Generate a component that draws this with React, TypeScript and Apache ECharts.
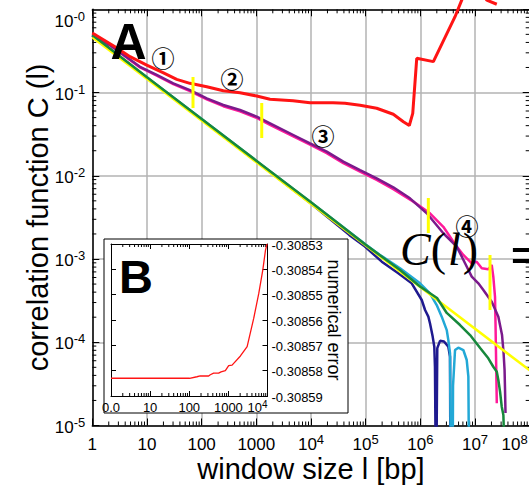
import React, { useEffect, useRef } from 'react';
import * as echarts from 'echarts';

// ---- main panel A: correlation function C(l) vs window size l ----
const redCurve: number[][] = [
  [1, 0.52], [2.6, 0.355], [4.9, 0.27], [9.9, 0.214], [19.6, 0.173], [35, 0.144], [61, 0.129],
  [124, 0.1175], [249, 0.105], [503, 0.0996], [1016, 0.0908], [1780, 0.083], [4690, 0.0798],
  [9600, 0.0755], [25300, 0.0755], [41900, 0.0743], [78900, 0.0705], [159000, 0.0647],
  [320000, 0.0548], [489000, 0.0446], [628000, 0.0402], [726000, 0.0563], [859000, 0.258],
  [1.73e6, 0.235], [4.31e6, 0.815], [5.71e6, 1.29], [8.8e6, 2.25], [1.64e7, 1.29], [2.5e7, 1.15],
];
const purpleCurve: number[][] = [
  [1, 0.49], [2.1, 0.372], [7.46, 0.204], [15.1, 0.1625], [30.3, 0.129], [61.2, 0.107],
  [124, 0.0853], [249, 0.0708], [503, 0.0617], [1016, 0.0513], [1780, 0.0427], [4750, 0.0309],
  [9600, 0.0245], [19400, 0.0195], [39000, 0.0148], [78900, 0.0117], [159000, 0.00933],
  [320000, 0.00727], [647000, 0.00536], [1.31e6, 0.00354], [2.63e6, 0.00204], [4.63e6, 0.00141],
  [6.57e6, 0.000889], [8.71e6, 0.000614], [1.15e7, 0.00051], [1.42e7, 0.000425], [2.02e7, 0.000307],
  [2.67e7, 0.000203], [3.12e7, 0.000122], [3.32e7, 7.64e-5], [3.47e7, 4.64e-5], [3.54e7, 2.67e-5],
  [3.61e7, 1.41e-5],
];
const magentaCurve: number[][] = [
  [1, 0.49], [2.1, 0.37], [7.46, 0.2], [15.1, 0.16], [30.3, 0.126], [61.2, 0.104], [124, 0.083],
  [249, 0.0685], [503, 0.0595], [1016, 0.0495], [1780, 0.041], [4750, 0.0297], [9600, 0.0236],
  [19400, 0.0187], [39000, 0.0142], [78900, 0.0112], [159000, 0.0089], [320000, 0.0069],
  [745000, 0.00489], [1.5e6, 0.00354], [2.63e6, 0.00244], [4.63e6, 0.00141], [6.11e6, 0.00112],
  [8.71e6, 0.000889], [1.07e7, 0.000929], [1.33e7, 0.000774], [1.75e7, 0.000752], [2.02e7, 0.000847],
  [2.16e7, 0.000614], [2.32e7, 0.000352], [2.37e7, 0.000169], [2.44e7, 5.08e-5], [2.5e7, 1.85e-5],
];
const greenCurve: number[][] = [
  [1, 0.49], [10, 0.153], [100, 0.0482], [1000, 0.0152], [1e4, 0.0048], [1e5, 0.00148],
  [4.25e5, 0.000738], [1e6, 0.000464], [2.02e6, 0.00034], [3.04e6, 0.000225], [5.32e6, 0.000161],
  [8.11e6, 0.000122], [1.24e7, 8.53e-5], [1.75e7, 6.41e-5], [2.16e7, 5.08e-5], [2.5e7, 4.43e-5],
  [2.67e7, 3.52e-5], [2.87e7, 2.55e-5], [3.08e7, 1.68e-5], [3.3e7, 1.34e-5], [3.38e7, 8e-6],
];
const navyCurve: number[][] = [
  [1, 0.485], [10, 0.15], [100, 0.047], [1000, 0.0148], [1e4, 0.00465], [5e4, 0.00195],
  [9.7e4, 0.00141], [1.97e5, 0.000929], [3.95e5, 0.000673], [6.95e5, 0.00051], [1.06e6, 0.000322],
  [1.22e6, 0.000244], [1.4e6, 0.000203], [1.5e6, 0.000169], [1.68e6, 0.000117], [1.8e6, 8.85e-5],
  [1.85e6, 5.08e-5], [1.94e6, 1e-6], [1.99e6, 1e-6], [2.04e6, 8.5e-5], [2.29e6, 0.000104],
  [2.71e6, 0.000102], [3.25e6, 8.85e-5], [3.49e6, 6.7e-5], [3.56e6, 1e-6],
];
const cyanCurve: number[][] = [
  [1, 0.49], [10, 0.152], [100, 0.048], [1000, 0.0151], [1e4, 0.00478], [1e5, 0.00149],
  [1.83e5, 0.00112], [4.25e5, 0.000774], [9.86e5, 0.00051], [1.5e6, 0.000387], [1.99e6, 0.00028],
  [2.46e6, 0.000203], [3.04e6, 0.00014], [3.25e6, 0.000106], [3.49e6, 7.37e-5], [3.64e6, 1e-6],
  [3.88e6, 1e-6], [3.96e6, 3e-5], [4.31e6, 8.07e-5], [4.95e6, 8.6e-5], [6.11e6, 8.07e-5],
  [7.05e6, 6.12e-5], [7.55e6, 3.86e-5], [7.87e6, 1e-6],
];
const powerLawFit: number[][] = [[1, 0.46], [1e8, 4.6e-5]];
// crossover markers: [l, upper C, lower C]
const crossoverMarks: number[][] = [
  [69.5, 0.154, 0.0652], [1256, 0.0748, 0.0284], [1.4e6, 5.41e-3, 2.05e-3], [1.88e7, 1.12e-3, 2.44e-4],
];
const regimeLabels = ['①', '②', '③', '④'];

// ---- inset B: numerical error ----
const insetWindow = [1, 102, 157, 191, 313, 345, 420, 564, 650, 837, 1018, 1244, 2032, 3016, 4454, 5984, 7576, 8886, 9710];
const insetError = [
  -0.308583, -0.308583, -0.3085824, -0.3085821, -0.3085821, -0.3085816, -0.308581, -0.308581,
  -0.3085805, -0.30858, -0.308578, -0.3085778, -0.3085742, -0.3085705, -0.3085593, -0.3085495,
  -0.3085403, -0.3085324, -0.30853,
];

const SANS = '"Liberation Sans", Arial, sans-serif';
const SERIF = '"Liberation Serif", "Times New Roman", serif';

const minorTicks = (fromExp: number, toExp: number) => {
  const out: number[] = [];
  for (let e = fromExp; e < toExp; e++) for (let m = 2; m <= 9; m++) out.push(m * Math.pow(10, e));
  return out;
};

const tickLine = (x1: number, y1: number, x2: number, y2: number) => ({
  type: 'line', shape: { x1, y1, x2, y2 }, style: { stroke: '#000', lineWidth: 1 },
});

const mainRich: any = {
  b: { fontSize: 17, lineHeight: 20, verticalAlign: 'bottom', fontFamily: SANS, color: '#000' },
  s: { fontSize: 13, lineHeight: 13, verticalAlign: 'top', fontFamily: SANS, color: '#000' },
  s8: { fontSize: 13, lineHeight: 13, verticalAlign: 'top', fontFamily: SANS, color: '#000', padding: [0, 2, 0, 0] },
};
const insetRich: any = {
  b: { fontSize: 13, lineHeight: 15, verticalAlign: 'bottom', fontFamily: SANS, color: '#000' },
  s: { fontSize: 10, lineHeight: 10, verticalAlign: 'top', fontFamily: SANS, color: '#000' },
};

const frameAxis = {
  axisLine: { show: true, onZero: false, lineStyle: { color: '#000', width: 1.5 } },
  axisTick: { show: true, inside: true, length: 7, lineStyle: { color: '#000', width: 1 } },
};
const insetFrame = {
  z: 10,
  axisLine: { show: true, onZero: false, lineStyle: { color: '#000', width: 1 } },
  axisTick: { show: true, inside: true, length: 5, lineStyle: { color: '#000', width: 1 } },
};

export default function App() {
  const ref = useRef<HTMLDivElement>(null);
  useEffect(() => {
    const chart = echarts.init(ref.current!, null, { renderer: 'svg' });
    const lineSeries = (data: number[][], color: string, width: number, extra: any = {}) => ({
      type: 'line', data, xAxisIndex: 0, yAxisIndex: 0, showSymbol: false, symbol: 'none',
      silent: true, lineStyle: { color, width }, ...extra,
    });
    const option: any = {
      animation: false,
      backgroundColor: '#fff',
      grid: [
        { left: 92.3, top: 9.3, width: 437.4, height: 416.2, outerBoundsMode: 'none', containLabel: false },
        { left: 111, top: 244, width: 156.5, height: 152, z: 10, outerBoundsMode: 'none', containLabel: false },
      ],
      xAxis: [
        {
          type: 'log', logBase: 10, min: 1, max: 1e8, gridIndex: 0, position: 'bottom', ...frameAxis,
          splitLine: { show: true, lineStyle: { color: '#b3b3b3', width: 1.5 } },
          axisLabel: {
            margin: 7, rich: mainRich, alignMaxLabel: 'right',
            formatter: (v: number) => {
              const e = Math.round(Math.log10(v));
              if (e === 8) return '{b|10}{s8|8}';
              return e <= 3 ? `{b|${Math.round(v)}}` : `{b|10}{s|${e}}`;
            },
          },
          name: 'window size l [bp]', nameLocation: 'middle', nameGap: 29, nameMoveOverlap: false,
          nameTextStyle: { fontSize: 29, color: '#000', fontFamily: SANS },
        },
        {
          type: 'log', logBase: 10, min: 1, max: 1e8, gridIndex: 0, position: 'top', ...frameAxis,
          axisLabel: { show: false }, splitLine: { show: false },
        },
        {
          type: 'log', logBase: 10, min: 1, max: 1e4, gridIndex: 1, position: 'bottom', ...insetFrame,
          splitLine: { show: false },
          axisLabel: {
            margin: 3, rich: insetRich, alignMaxLabel: 'right',
            formatter: (v: number) => {
              const e = Math.round(Math.log10(v));
              if (e === 0) return '{b|0.0}';
              return e <= 3 ? `{b|${Math.round(v)}}` : `{b|10}{s|${e}}`;
            },
          },
        },
        {
          type: 'log', logBase: 10, min: 1, max: 1e4, gridIndex: 1, position: 'top', ...insetFrame,
          axisLabel: { show: false }, splitLine: { show: false },
        },
      ],
      yAxis: [
        {
          type: 'log', logBase: 10, min: 1e-5, max: 1, gridIndex: 0, position: 'left', ...frameAxis,
          splitLine: { show: true, lineStyle: { color: '#b3b3b3', width: 1.5 } },
          axisLabel: {
            margin: 7, rich: mainRich, showMaxLabel: false,
            formatter: (v: number) => {
              const e = Math.round(Math.log10(v));
              return e === 0 ? '' : `{b|10}{s|-${-e}}`;
            },
          },
          name: 'correlation function C (l)', nameLocation: 'middle', nameGap: 40, nameRotate: 90, nameMoveOverlap: false,
          nameTextStyle: { fontSize: 29, color: '#000', fontFamily: SANS },
        },
        {
          type: 'log', logBase: 10, min: 1e-5, max: 1, gridIndex: 0, position: 'right', ...frameAxis,
          axisLabel: { show: false }, splitLine: { show: false },
        },
        {
          type: 'value', min: -30859, max: -30853, interval: 1, gridIndex: 1, position: 'left', ...insetFrame,
          axisLabel: { show: false }, splitLine: { show: false },
        },
        {
          type: 'value', min: -30859, max: -30853, interval: 1, gridIndex: 1, position: 'right', ...insetFrame,
          splitLine: { show: false },
          axisLabel: {
            margin: 4, rich: insetRich,
            formatter: (v: number) => `{b|${(v / 1e5).toFixed(5)}}`,
          },
          name: 'numerical error', nameLocation: 'middle', nameGap: 57, nameRotate: -90, nameMoveOverlap: false,
          nameTextStyle: { fontSize: 18, color: '#000', fontFamily: SANS },
        },
      ],
      series: [
        {
          type: 'custom', xAxisIndex: 0, yAxisIndex: 0, silent: true, z: 1,
          data: minorTicks(0, 8).map((v) => [v, 1]), encode: { x: 0, y: 1 },
          renderItem: (_p: any, api: any) => {
            const v = api.value(0);
            const b = api.coord([v, 1e-5]);
            const t = api.coord([v, 1]);
            return { type: 'group', children: [tickLine(b[0], b[1], b[0], b[1] - 4), tickLine(t[0], t[1], t[0], t[1] + 4)] };
          },
        },
        {
          type: 'custom', xAxisIndex: 0, yAxisIndex: 0, silent: true, z: 1,
          data: minorTicks(-5, 0).map((v) => [1, v]), encode: { x: 0, y: 1 },
          renderItem: (_p: any, api: any) => {
            const v = api.value(1);
            const l = api.coord([1, v]);
            const r = api.coord([1e8, v]);
            return { type: 'group', children: [tickLine(l[0], l[1], l[0] + 4, l[1]), tickLine(r[0], r[1], r[0] - 4, r[1])] };
          },
        },
        lineSeries(navyCurve, '#1f1a8f', 2.5),
        lineSeries(cyanCurve, '#22a8d6', 2.5),
        lineSeries(magentaCurve, '#ff1a9a', 2.5),
        lineSeries(purpleCurve, '#7b1a8c', 2.5),
        lineSeries(powerLawFit, '#ffff00', 2.5),
        lineSeries(greenCurve, '#17883c', 2.5),
        lineSeries(redCurve, '#ff1414', 3, { clip: false }),
        ...crossoverMarks.map((m) => lineSeries([[m[0], m[1]], [m[0], m[2]]], '#ffff00', 3)),
        {
          type: 'custom', xAxisIndex: 2, yAxisIndex: 2, silent: true, z: 11,
          data: minorTicks(0, 4).map((v) => [v, -30859]), encode: { x: 0, y: 1 },
          renderItem: (_p: any, api: any) => {
            const v = api.value(0);
            const b = api.coord([v, -30859]);
            const t = api.coord([v, -30853]);
            return { type: 'group', children: [tickLine(b[0], b[1], b[0], b[1] - 3), tickLine(t[0], t[1], t[0], t[1] + 3)] };
          },
        },
        {
          type: 'line', xAxisIndex: 2, yAxisIndex: 2, z: 11, showSymbol: false, symbol: 'none', silent: true,
          data: insetWindow.map((l, i) => [l, insetError[i] * 1e5]),
          lineStyle: { color: '#ff1414', width: 1.3 },
        },
      ],
      graphic: [
        {
          type: 'rect', z: 5, silent: true, shape: { x: 104, y: 239, width: 244, height: 174 },
          style: { fill: '#fff', stroke: '#000', lineWidth: 1 },
        },
        {
          // top tick label of the left axis (10^-0), lowered as in the original figure
          type: 'text', z: 30, x: 85, y: 20,
          style: {
            text: '{b|10}{s|-0}', rich: mainRich,
            align: 'right', verticalAlign: 'middle', textAlign: 'right', textVerticalAlign: 'middle',
          },
        },
        {
          type: 'text', z: 30, x: 128.5, y: 42,
          style: { text: 'A', fontSize: 50, fontWeight: 'bold', fontFamily: SANS, fill: '#000', align: 'center', verticalAlign: 'middle', textAlign: 'center', textVerticalAlign: 'middle' },
        },
        {
          type: 'text', z: 30, x: 136, y: 276,
          style: { text: 'B', fontSize: 47, fontWeight: 'bold', fontFamily: SANS, fill: '#000', align: 'center', verticalAlign: 'middle', textAlign: 'center', textVerticalAlign: 'middle' },
        },
        ...[[163, 57], [232, 78], [323, 135], [467, 225]].map((p, i) => ({
          type: 'text', z: 30, x: p[0], y: p[1],
          style: {
            text: regimeLabels[i], fontSize: 23, fontWeight: 'bold', fontFamily: '"Noto Sans CJK JP", "DejaVu Sans", sans-serif',
            fill: '#000', align: 'center', verticalAlign: 'middle', textAlign: 'center', textVerticalAlign: 'middle',
          },
        })),
        {
          type: 'text', z: 30, x: 400, y: 249,
          style: {
            text: '{c|C}{p|(}{l|l}{p|)}',
            rich: {
              c: { fontSize: 46, fontStyle: 'italic', fontFamily: SERIF, color: '#000' },
              p: { fontSize: 46, fontFamily: SERIF, color: '#000' },
              l: { fontSize: 46, fontStyle: 'italic', fontFamily: SERIF, color: '#000', padding: [0, 2, 0, 2] },
            },
            align: 'left', verticalAlign: 'middle', textAlign: 'left', textVerticalAlign: 'middle',
          },
        },
        {
          type: 'text', z: 30, x: 510, y: 254,
          style: { text: '=', fontSize: 58, fontWeight: 'bold', fontFamily: SERIF, fill: '#000', align: 'left', verticalAlign: 'middle', textAlign: 'left', textVerticalAlign: 'middle' },
        },
      ],
    };
    chart.setOption(option);
    return () => chart.dispose();
  }, []);
  return (
    <div style={{ position: 'fixed', left: 0, top: 0, width: 529, height: 491, overflow: 'hidden', background: '#fff' }}>
      <div ref={ref} style={{ width: 529, height: 491 }} />
    </div>
  );
}
